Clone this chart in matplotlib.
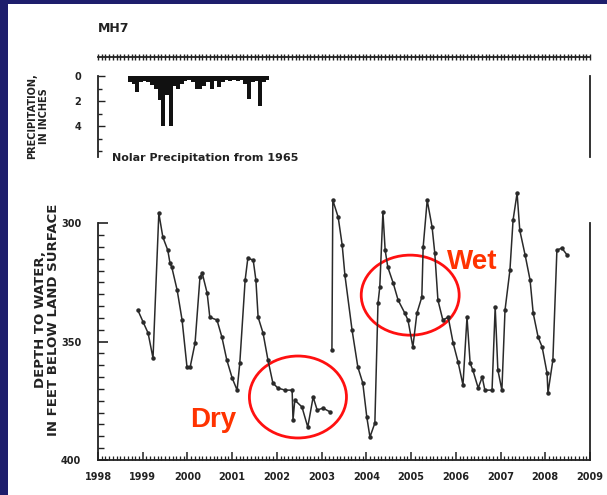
import matplotlib
matplotlib.use('Agg')
import matplotlib.pyplot as plt
import numpy as np
from matplotlib.patches import Ellipse, Rectangle
from matplotlib.ticker import MultipleLocator

# depth to water (feet below land surface), decimal years
years = [1998.89, 1999.01, 1999.12, 1999.23, 1999.36, 1999.45, 1999.56, 1999.61, 1999.65, 1999.77,
         1999.88, 1999.99, 2000.06, 2000.17, 2000.28, 2000.33, 2000.44, 2000.50, 2000.66, 2000.77,
         2000.88, 2001.00, 2001.11, 2001.17, 2001.29, 2001.35, 2001.47, 2001.53, 2001.58, 2001.69,
         2001.80, 2001.91, 2002.02, 2002.18, 2002.34, 2002.36, 2002.40, 2002.56, 2002.69, 2002.81,
         2002.90, 2003.03, 2003.19, 2003.21,
         2003.23, 2003.25, 2003.37, 2003.46, 2003.52, 2003.68, 2003.81, 2003.92, 2004.01, 2004.08,
         2004.19, 2004.26, 2004.30, 2004.37, 2004.42, 2004.48, 2004.60, 2004.71, 2004.86, 2004.93,
         2005.04, 2005.13, 2005.24, 2005.27, 2005.36, 2005.47, 2005.53, 2005.60, 2005.71, 2005.83,
         2005.94, 2006.05, 2006.16, 2006.25, 2006.32, 2006.38, 2006.50, 2006.59, 2006.65, 2006.81,
         2006.88, 2006.94, 2007.03, 2007.10, 2007.21, 2007.28, 2007.37, 2007.43, 2007.55, 2007.66,
         2007.73, 2007.84, 2007.93, 2008.04, 2008.06, 2008.17, 2008.26, 2008.37, 2008.49]
depth = [336.7, 341.8, 346.4, 357.0, 295.8, 305.9, 311.4, 316.9, 318.6, 328.3,
         340.9, 360.8, 360.8, 350.6, 322.8, 321.1, 329.5, 339.7, 340.9, 348.1,
         357.8, 365.4, 370.5, 359.1, 324.0, 314.8, 315.6, 324.0, 339.7, 346.4,
         357.8, 367.5, 369.6, 370.5, 370.5, 383.1, 374.7, 377.6, 386.1, 373.4,
         378.9, 378.1, 379.7, np.nan,
         353.6, 290.3, 297.5, 309.3, 321.9, 345.1, 360.8, 367.5, 381.9, 390.3,
         384.4, 333.8, 327.0, 295.4, 311.4, 318.6, 325.3, 332.5, 338.0, 340.9,
         352.3, 338.0, 331.2, 310.1, 290.3, 301.7, 312.7, 332.5, 340.9, 339.7,
         350.6, 358.6, 368.3, 339.7, 359.1, 362.0, 369.6, 365.0, 370.5, 370.5,
         335.4, 362.0, 370.5, 336.7, 319.8, 298.7, 287.3, 303.0, 313.5, 324.0,
         338.0, 348.1, 352.3, 363.3, 371.7, 357.8, 311.4, 310.5, 313.5]

# monthly precipitation (inches), starting Sep 1998
precip_start = 1998 + 8 / 12
precip = [0.5, 0.6, 1.3, 0.5, 0.4, 0.5, 0.7, 1.0, 1.9, 4.0,
          1.5, 4.0, 0.8, 1.0, 0.6, 0.4, 0.3, 0.5, 1.0, 1.0,
          0.8, 0.5, 1.0, 0.4, 0.9, 0.5, 0.3, 0.4, 0.3, 0.4,
          0.3, 0.6, 1.8, 0.5, 0.4, 2.4, 0.5, 0.3]

year_labels = ['1998', '1999', '2000', '2001', '2002', '2003', '2004',
               '2005', '2006', '2007', '2008', '2009']
depth_ticks = [300, 350, 400]
precip_ticks = [0, 2, 4]

W, H = 607, 495
navy = '#1e1e6c'
ink = '#222222'

fig = plt.figure(figsize=(W / 100, H / 100), dpi=100, facecolor=navy)
fig.patches.append(Rectangle((8 / W, 0), 1 - 8 / W, 1 - 4 / H, transform=fig.transFigure,
                             facecolor='white', edgecolor='none', zorder=-10))

# ---- main plot: depth to water
ax = fig.add_axes([98 / W, 1 - 460 / H, 492 / W, 270 / H])
ax.patch.set_alpha(0)
ax.plot(years, depth, color='#2a2a2a', lw=1.1, marker='o', ms=2.2, clip_on=False)
ax.set_xlim(1998, 2009)
ax.set_ylim(400, 286)
ax.spines['top'].set_visible(False)
ax.spines['left'].set_bounds(300, 400)
ax.spines['right'].set_bounds(300, 400)
for s in ax.spines.values():
    s.set_linewidth(1.3)
    s.set_color(ink)

ax.set_yticks(depth_ticks)
ax.set_yticklabels([str(v) for v in depth_ticks], fontsize=7, weight='bold', color=ink)
ax.set_yticks(list(range(300, 401, 5)), minor=True)
ax.tick_params(axis='y', which='major', direction='in', length=7, width=1.2, pad=12, colors=ink)
ax.tick_params(axis='y', which='minor', direction='in', length=4, width=1, colors=ink)

year_pos = [1998 + i for i in range(len(year_labels))]
ax.set_xticks(year_pos)
ax.set_xticklabels(year_labels, fontsize=7, weight='bold', color='#333333')
ax.xaxis.set_minor_locator(MultipleLocator(1 / 12))
ax.tick_params(axis='x', which='major', direction='in', length=6, width=1.1, pad=9, colors=ink)
ax.tick_params(axis='x', which='minor', direction='in', length=3, width=0.9, colors=ink)

fig.text(47 / W, 1 - 320 / H, 'DEPTH TO WATER,\nIN FEET BELOW LAND SURFACE', rotation=90,
         ha='center', va='center', fontsize=9.5, weight='bold', color=ink, linespacing=1.1)

# dry / wet annotations
ax.add_patch(Ellipse((2002.47, 373.4), 2.17, 34.6, fill=False, edgecolor='#ff1010', lw=2, clip_on=False))
ax.add_patch(Ellipse((2004.98, 330.4), 2.19, 33.8, fill=False, edgecolor='#ff1010', lw=2, clip_on=False))
fig.text(213 / W, 1 - 420 / H, 'Dry', ha='center', va='center', fontsize=20, weight='bold',
         color='#ff3300', family='Liberation Sans')
fig.text(472 / W, 1 - 262 / H, 'Wet', ha='center', va='center', fontsize=20, weight='bold',
         color='#ff3300', family='Liberation Sans')

# ---- top plot: precipitation
ax2 = fig.add_axes([98 / W, 1 - 157 / H, 492 / W, 100 / H])
ax2.patch.set_alpha(0)
px = [precip_start + i / 12 for i in range(len(precip))]
ax2.bar(px, precip, width=1 / 12, align='edge', color='#111111')
ax2.set_xlim(1998, 2009)
ax2.set_ylim(6.48, -1.52)
ax2.spines['bottom'].set_visible(False)
ax2.spines['left'].set_bounds(0, 6.48)
ax2.spines['right'].set_bounds(0, 6.48)
for s in ax2.spines.values():
    s.set_linewidth(1.3)
    s.set_color(ink)
ax2.xaxis.tick_top()
ax2.set_xticks(year_pos)
ax2.set_xticklabels([])
ax2.xaxis.set_minor_locator(MultipleLocator(1 / 12))
ax2.tick_params(axis='x', which='both', direction='inout', length=5, width=1, colors=ink)
ax2.set_yticks(precip_ticks)
ax2.set_yticklabels([str(v) for v in precip_ticks], fontsize=7, weight='bold', color=ink)
ax2.set_yticks([1, 3, 5, 6], minor=True)
ax2.tick_params(axis='y', which='major', direction='in', length=5, width=1, pad=12, colors=ink)
ax2.tick_params(axis='y', which='minor', direction='in', length=3, width=1, colors=ink)

fig.text(38 / W, 1 - 116 / H, 'PRECIPITATION,\nIN INCHES', rotation=90, ha='center', va='center',
         fontsize=7, weight='bold', color=ink, linespacing=1.2)
fig.text(98 / W, 1 - 28 / H, 'MH7', ha='left', va='center', fontsize=9, weight='bold', color=ink)
fig.text(112 / W, 1 - 158 / H, 'Nolar Precipitation from 1965', ha='left', va='center',
         fontsize=8, weight='bold', color=ink)

fig.savefig('out.png', dpi=100, facecolor=fig.get_facecolor())
